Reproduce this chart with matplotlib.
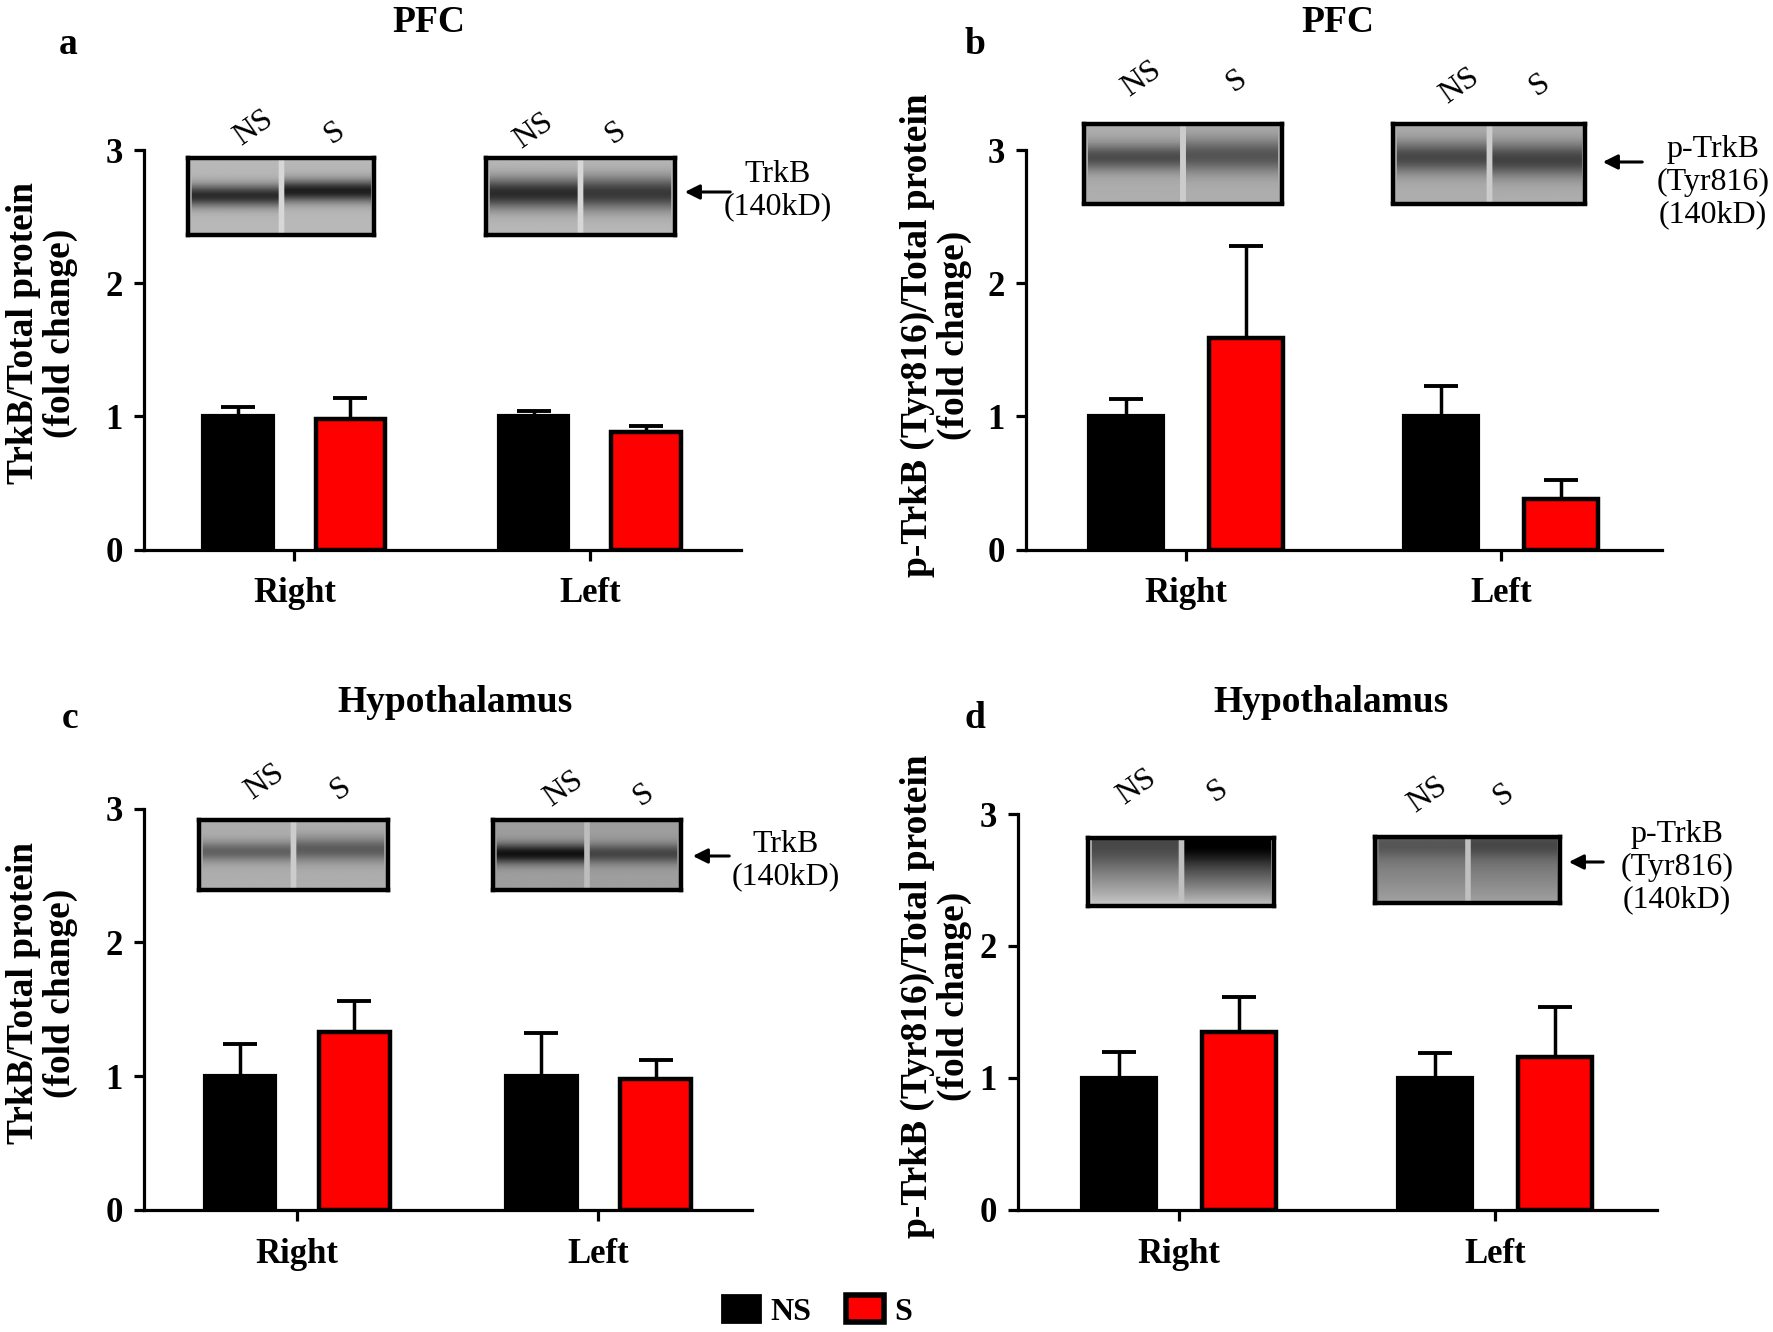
import numpy as np
import matplotlib
matplotlib.use("Agg")
import matplotlib.pyplot as plt
from matplotlib.patches import Patch, FancyArrowPatch

plt.rcParams['font.family'] = ['Liberation Serif', 'DejaVu Serif']

groups = ['Right', 'Left']

# panel a: PFC TrkB
a_ns = [1.0, 1.0]
a_ns_err = [0.07, 0.04]
a_s = [0.98, 0.88]
a_s_err = [0.16, 0.05]

# panel b: PFC p-TrkB
b_ns = [1.0, 1.0]
b_ns_err = [0.13, 0.23]
b_s = [1.59, 0.38]
b_s_err = [0.69, 0.14]

# panel c: Hypothalamus TrkB
c_ns = [1.0, 1.0]
c_ns_err = [0.24, 0.32]
c_s = [1.33, 0.98]
c_s_err = [0.23, 0.14]

# panel d: Hypothalamus p-TrkB
d_ns = [1.0, 1.0]
d_ns_err = [0.20, 0.19]
d_s = [1.35, 1.16]
d_s_err = [0.26, 0.38]

W, H = 1773, 1332
RED = '#ff0000'


def box(x0, x1, ytop, ybot):
    return [x0 / W, 1 - ybot / H, (x1 - x0) / W, (ybot - ytop) / H]


def ftext(fig, x, y, s, **kw):
    fig.text(x / W, 1 - y / H, s, **kw)


def bar_panel(fig, rect, ns, ns_err, s, s_err):
    ax = fig.add_axes(rect)
    x = np.arange(len(groups))
    off, w = 0.19, 0.235
    ax.bar(x - off, ns, w, color='black', edgecolor='black', linewidth=3, zorder=3)
    ax.bar(x + off, s, w, color=RED, edgecolor='black', linewidth=3.2, zorder=3)
    ax.errorbar(x - off, ns, yerr=[np.zeros(len(ns)), ns_err], fmt='none', ecolor='black',
                elinewidth=2.5, capsize=12, capthick=2.8, zorder=2)
    ax.errorbar(x + off, s, yerr=[np.zeros(len(s)), s_err], fmt='none', ecolor='black',
                elinewidth=2.5, capsize=12, capthick=2.8, zorder=2)
    ax.set_xlim(-0.51, 1.51)
    ax.set_ylim(0, 3)
    ax.set_yticks([0, 1, 2, 3])
    ax.set_xticks(x)
    ax.set_xticklabels(groups)
    for sp in ['top', 'right']:
        ax.spines[sp].set_visible(False)
    for sp in ['left', 'bottom']:
        ax.spines[sp].set_linewidth(2.3)
    ax.tick_params(axis='y', length=7, width=2.3, pad=8, labelsize=25)
    ax.tick_params(axis='x', length=8, width=2.3, pad=12, labelsize=25)
    for lab in ax.get_xticklabels() + ax.get_yticklabels():
        lab.set_fontweight('bold')
    return ax


def make_blot(bands, bg, grads=None, edges=False, rows=60, cols=200):
    r = np.arange(rows)[:, None] / rows
    img = np.full((rows, cols), bg, dtype=float)
    lanes = [(4, 97), (103, 196)]
    for i, ((c0, c1), (center, sigma, depth)) in enumerate(zip(lanes, bands)):
        if grads is not None:
            top, bottom = grads[i]
            img[:, c0:c1] = top + (bottom - top) * r ** 1.3
        prof = depth * np.exp(-0.5 * ((r - center) / sigma) ** 2)
        img[:, c0:c1] = img[:, c0:c1] - prof
    img[:, 97:103] = np.minimum(img[:, 97:103] + 0.12, 1) if grads is None else 0.75
    if edges:
        img[:, :4] = 0.8
        img[:, 196:] = 0.8
    return np.clip(img, 0, 1)


def blot(fig, rect, img):
    ax = fig.add_axes(rect)
    ax.imshow(img, cmap='gray', vmin=0, vmax=1, aspect='auto', interpolation='bilinear')
    ax.set_xticks([])
    ax.set_yticks([])
    for sp in ax.spines.values():
        sp.set_linewidth(3.2)
    return ax


fig = plt.figure(figsize=(W / 100, H / 100), dpi=100)

bar_panel(fig, box(143.6, 740.6, 150.4, 549.5), a_ns, a_ns_err, a_s, a_s_err)
bar_panel(fig, box(1025.5, 1662, 150.4, 549.5), b_ns, b_ns_err, b_s, b_s_err)
bar_panel(fig, box(143.6, 752, 808.5, 1209.9), c_ns, c_ns_err, c_s, c_s_err)
bar_panel(fig, box(1017.6, 1656.5, 814, 1209.9), d_ns, d_ns_err, d_s, d_s_err)

# blots
blot(fig, box(187.7, 374.3, 158.3, 235.2), make_blot([(0.48, 0.1, 0.55), (0.42, 0.1, 0.6)], 0.72))
blot(fig, box(486.2, 675, 158.3, 235.2), make_blot([(0.45, 0.14, 0.55), (0.45, 0.15, 0.5)], 0.72))
blot(fig, box(1084.3, 1282.2, 124.4, 203.5), make_blot([(0.42, 0.12, 0.38), (0.4, 0.15, 0.35)], 0.68))
blot(fig, box(1393, 1585.2, 124.4, 203.5), make_blot([(0.42, 0.14, 0.4), (0.45, 0.15, 0.42)], 0.68))
blot(fig, box(199, 387.8, 819.8, 889.9), make_blot([(0.45, 0.1, 0.3), (0.42, 0.12, 0.32)], 0.68))
blot(fig, box(493, 680.7, 819.8, 889.9), make_blot([(0.48, 0.1, 0.55), (0.48, 0.1, 0.35)], 0.62))
blot(fig, box(1087.7, 1274.3, 837.8, 905.7),
     make_blot([(0.2, 0.15, 0.05), (0.15, 0.15, 0.1)], 0.5, grads=[(0.3, 0.8), (0.05, 0.78)], edges=True))
blot(fig, box(1375, 1560.4, 836.7, 903.4),
     make_blot([(0.15, 0.12, 0.1), (0.15, 0.12, 0.12)], 0.5, grads=[(0.42, 0.64), (0.38, 0.64)]))

bold = dict(fontweight='bold', ha='center', va='center')

# titles and letters
ftext(fig, 428.5, 22, 'PFC', fontsize=27, **bold)
ftext(fig, 1337.6, 22, 'PFC', fontsize=27, **bold)
ftext(fig, 454.5, 703, 'Hypothalamus', fontsize=27, **bold)
ftext(fig, 1330.8, 703, 'Hypothalamus', fontsize=27, **bold)
ftext(fig, 68, 45, 'a', fontsize=27, **bold)
ftext(fig, 975, 45, 'b', fontsize=27, **bold)
ftext(fig, 70, 719, 'c', fontsize=27, **bold)
ftext(fig, 975, 719, 'd', fontsize=27, **bold)

# y labels
ftext(fig, 42, 333, 'TrkB/Total protein\n(fold change)', fontsize=27, rotation=90,
      linespacing=1.05, **bold)
ftext(fig, 936, 335, 'p-TrkB (Tyr816)/Total protein\n(fold change)', fontsize=27, rotation=90,
      linespacing=1.05, **bold)
ftext(fig, 42, 993, 'TrkB/Total protein\n(fold change)', fontsize=27, rotation=90,
      linespacing=1.05, **bold)
ftext(fig, 936, 996, 'p-TrkB (Tyr816)/Total protein\n(fold change)', fontsize=27, rotation=90,
      linespacing=1.05, **bold)

# lane labels
lane = dict(fontsize=23, rotation=35, ha='center', va='center')
for (x, y, s) in [(254, 128, 'NS'), (335, 133, 'S'), (534, 131, 'NS'), (616, 133, 'S'),
                  (1142, 79, 'NS'), (1237, 81, 'S'), (1460, 86, 'NS'), (1540, 85, 'S'),
                  (265, 782, 'NS'), (341, 789, 'S'), (564, 789, 'NS'), (644, 795, 'S'),
                  (1137, 787, 'NS'), (1218, 791, 'S'), (1428, 795, 'NS'), (1504, 795, 'S')]:
    ftext(fig, x, y, s, **lane)

# protein labels and arrows
norm = dict(fontsize=23, ha='center', va='center', linespacing=1.15)
ftext(fig, 778, 191, 'TrkB\n(140kD)', **norm)
ftext(fig, 1713, 182, 'p-TrkB\n(Tyr816)\n(140kD)', **norm)
ftext(fig, 786, 861, 'TrkB\n(140kD)', **norm)
ftext(fig, 1677, 867, 'p-TrkB\n(Tyr816)\n(140kD)', **norm)

for (x0, x1, y) in [(733, 682, 192), (1645, 1600, 162), (732, 690, 856), (1606, 1566, 862)]:
    fig.patches.append(FancyArrowPatch(
        (x0 / W, 1 - y / H), (x1 / W, 1 - y / H), transform=fig.transFigure,
        arrowstyle='-|>', mutation_scale=22, linewidth=2.2, color='black'))

# legend
handles = [Patch(facecolor='black', edgecolor='black', linewidth=2, label='NS'),
           Patch(facecolor=RED, edgecolor='black', linewidth=4, label='S')]
fig.legend(handles=handles, loc='center', bbox_to_anchor=(817 / W, 1 - 1311 / H), ncol=2,
           frameon=False, prop={'weight': 'bold', 'size': 23}, handlelength=1.2,
           handleheight=0.9, handletextpad=0.3, columnspacing=1.1)

fig.savefig('out.png', dpi=100)
